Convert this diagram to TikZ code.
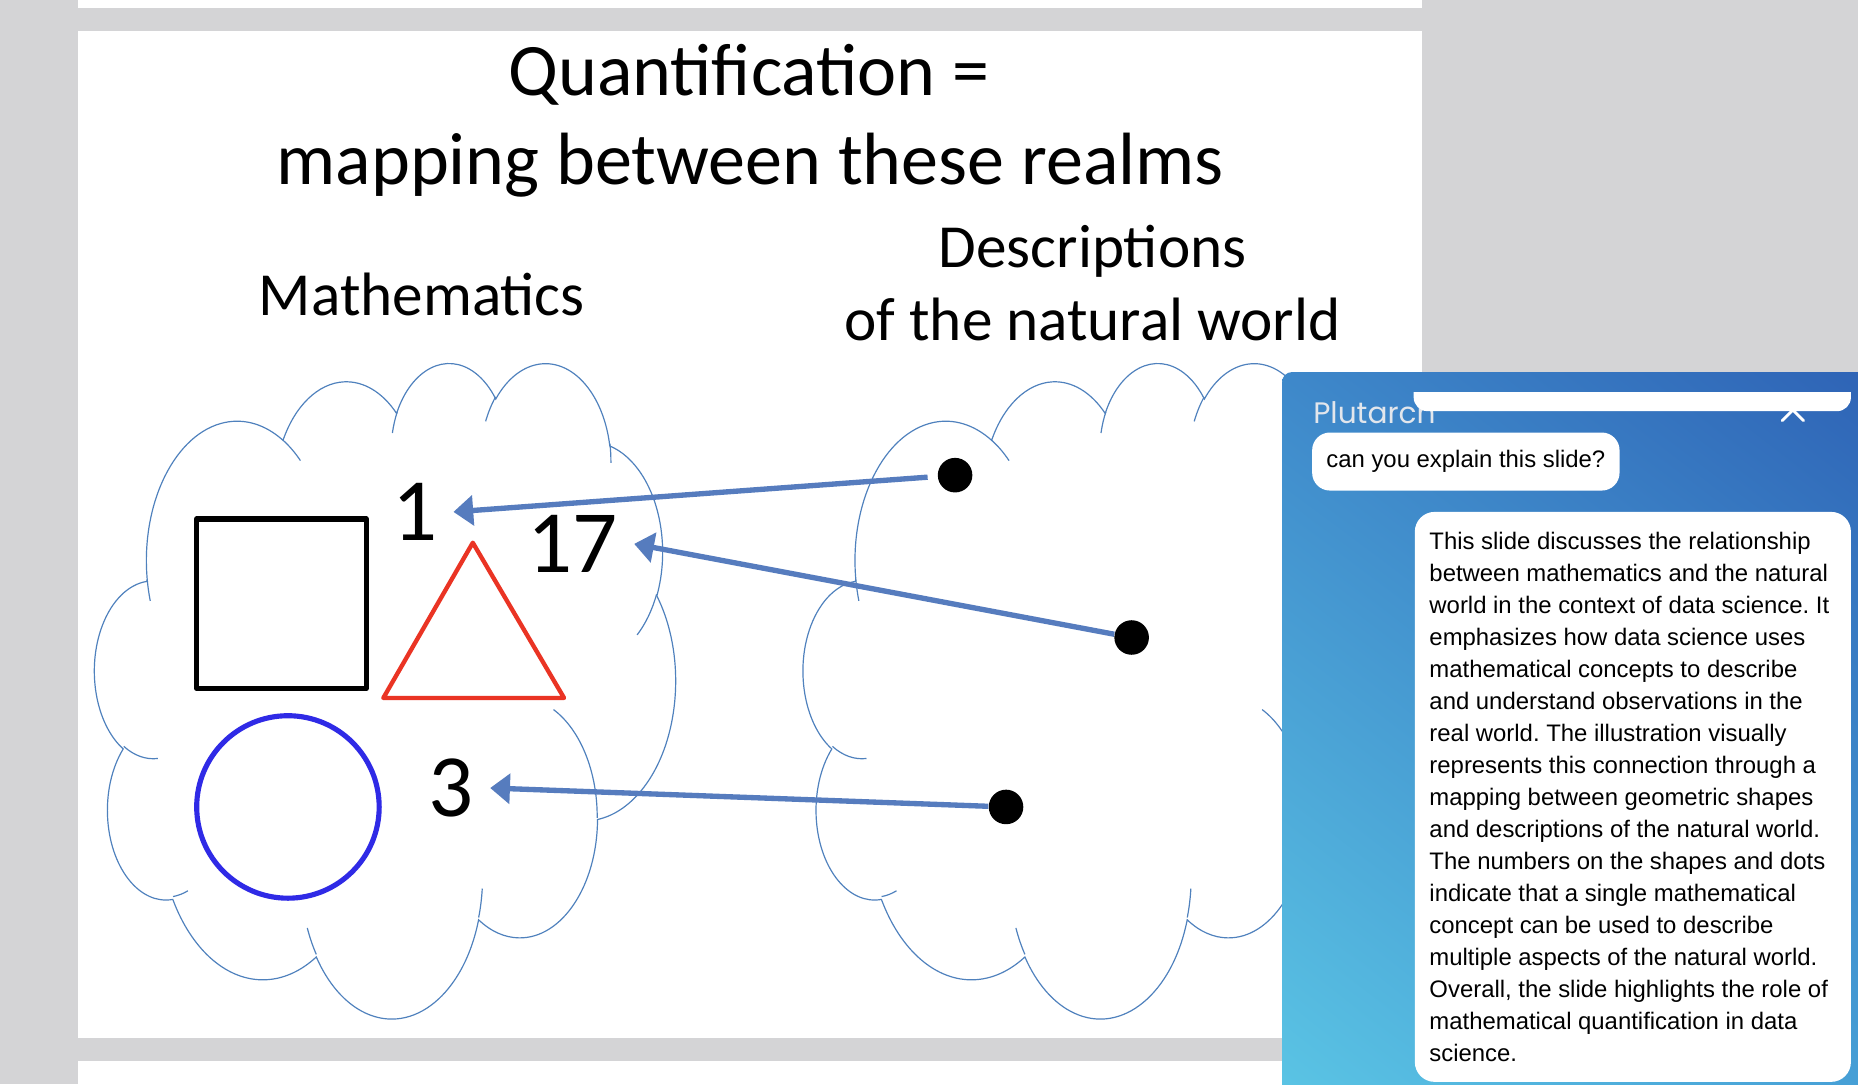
\documentclass[tikz,border=0pt]{standalone}
\usepackage{fontspec}
\setmainfont{Carlito}
\newfontfamily\chatfont{Liberation Sans}
\newfontfamily\brandfont{Poppins}
\usetikzlibrary{arrows.meta,positioning,shadings}
\frenchspacing

\definecolor{pagegrey}{RGB}{212,212,214}
\definecolor{cloudblue}{RGB}{79,129,189}
\definecolor{mapblue}{RGB}{86,124,190}
\definecolor{trired}{RGB}{234,52,36}
\definecolor{ringblue}{RGB}{47,42,230}
\definecolor{panelA}{RGB}{62,136,202}
\definecolor{panelB}{RGB}{45,96,180}
\definecolor{panelC}{RGB}{92,200,230}
\definecolor{panelD}{RGB}{70,160,215}
\definecolor{brandgrey}{RGB}{226,230,236}

% one lobe of the cloud: x radius, y radius, start and sweep (visual angles)
\newcommand\lobe[4]{arc[x radius=#1, y radius=#2,
  start angle={atan2(sin(#3)/#2,cos(#3)/#1)},
  delta angle={atan2(sin(#3+#4)/#2,cos(#3+#4)/#1)-atan2(sin(#3)/#2,cos(#3)/#1)-360*round((atan2(sin(#3+#4)/#2,cos(#3+#4)/#1)-atan2(sin(#3)/#2,cos(#3)/#1)-#4)/360)}]}

\newcommand\cloudoutline{(3.9,14.37)
  \lobe{6.753}{9.19}{-190.4875}{123.7805}
  \lobe{5.333}{7.267}{-144.1024}{89.9452}
  \lobe{4.365}{5.945}{-145.8079}{99.723}
  \lobe{4.857}{6.595}{-130.9861}{117.2417}
  \lobe{5.333}{7.273}{-78.7089}{109.0269}
  \lobe{6.775}{9.22}{-46.2673}{130.269}
  \lobe{5.785}{7.867}{0.625}{114.0333}
  \lobe{6.752}{9.215}{22.4516}{115.1726}
  \lobe{7.72}{10.543}{66.2426}{75.711}
  \lobe{4.36}{5.918}{-274.9421}{146.7356}
  \lobe{4.345}{5.945}{-246.8285}{152.5189} -- cycle}

\newcommand\cloudtails{(4.693,26.177) \lobe{4.345}{5.945}{86.742}{26.4295}
  (6.928,34.899) \lobe{4.36}{5.918}{73.6105}{11.4475}
  (16.478,39.09) \lobe{6.752}{9.215}{137.6242}{14.0811}
  (28.827,34.751) \lobe{6.752}{9.215}{6.4533}{15.9984}
  (34.129,22.954) \lobe{5.785}{7.867}{-70.2924}{70.9174}
  (41.798,15.354) \lobe{5.333}{7.273}{30.318}{27.7515}
  (38.324,5.426) \lobe{4.857}{6.595}{-13.7443}{14.8589}
  (29.078,3.952) \lobe{4.857}{6.595}{-149.1815}{18.1954}
  (22.141,4.72) \lobe{4.365}{5.945}{-163.4943}{17.6864}
  (14,5.192) \lobe{6.753}{9.19}{-66.707}{12.3194}
  (4.127,15.789) \lobe{6.753}{9.19}{157.6544}{11.8582}}

\begin{document}
\begin{tikzpicture}[x=0.6pt, y=-0.6pt,
  slidetitle/.style={font=\fontsize{37.5}{45}\selectfont, anchor=base, inner sep=0pt},
  realm/.style={font=\fontsize{31}{37}\selectfont, anchor=base, inner sep=0pt},
  numeral/.style={font=\fontsize{45}{54}\selectfont, inner xsep=8pt, inner ysep=0pt},
  dot/.style={circle, fill=black, minimum size=17.5pt, inner sep=0pt},
  maparrow/.style={draw=mapblue, line width=2.7pt, -{Triangle[length=10pt, width=15pt]}},
  cloudline/.style={draw=cloudblue, line width=0.6pt},
  bubble/.style={fill=white, rounded corners=9pt, inner xsep=7.2pt, minimum height=29.4pt,
    font=\chatfont\fontsize{12.1}{16.2}\selectfont},
  chattext/.style={font=\chatfont\fontsize{12.1}{16.2}\selectfont, inner sep=0pt, align=left}]

% page and slides
\useasboundingbox (0,0) rectangle (1568,915);
\fill[pagegrey] (0,0) rectangle (1568,915);
\fill[white] (66,-5) rectangle (1200,7);
\fill[white] (66,26) rectangle (1200,876);
\fill[white] (66,895) rectangle (1200,925);

\node[slidetitle] (quant) at (632,81) {Quantification =};
\node[slidetitle] (mapping) at (633,156) {mapping between these realms};
\node[realm] (maths) at (356,266) {Mathematics};
\node[realm] (descr) at (922,226) {Descriptions};
\node[realm] (world) at (922,287) {of the natural world};

% the two clouds
\foreach \cx in {80,678}{
  \begin{scope}[shift={(\cx,305)}, x=6.8056pt, y=-7.6806pt]
    \draw[cloudline, fill=white] \cloudoutline;
    \draw[cloudline] \cloudtails;
  \end{scope}
}

\draw[line width=2.6pt, line join=round] (166,438) rectangle (309,581);
\draw[trired, line width=2.2pt, line join=round] (399,458) -- (476,589) -- (323.5,589) -- cycle;
\draw[ringblue, line width=2.6pt] (243,681) circle[radius=77];

\node[numeral] (numOne) at (350,432) {1};
\node[numeral] (numSeventeen) at (483.5,459) {17};
\node[numeral] (numThree) at (381,665) {3};
\node[dot] (dotA) at (806,401) {};
\node[dot] (dotB) at (955,538) {};
\node[dot] (dotC) at (849,681) {};

\draw[maparrow, shorten <=5pt] (dotA) -- (numOne.east);
\draw[maparrow] (dotB) -- (numSeventeen.east);
\draw[maparrow] (dotC) -- (numThree.east);

% chat panel
\shade[upper left=panelA, upper right=panelB, lower left=panelC, lower right=panelD,
  rounded corners=5pt] (1082,314) rectangle (1620,960);
\node[anchor=base west, inner sep=0pt, text=brandgrey, font=\brandfont\fontsize{15}{18}\selectfont]
  (brand) at (1108,357) {Plutarch};
\draw[white, line width=1.5pt, line cap=round] (1504,337) -- (1522,355) (1504,355) -- (1522,337);
\begin{scope}
  \clip (1082,331) rectangle (1568,915);
  \fill[white, rounded corners=7pt] (1193,290) rectangle (1562,347);
\end{scope}
\node[bubble, anchor=west] (question) at (1107,389.5) {can you explain this slide?};
\fill[white, rounded corners=10pt] (1194,432) rectangle (1562,913);
\node[chattext, anchor=north west] (reply) at (1206,449) {This slide discusses the relationship\\
between mathematics and the natural\\
world in the context of data science. It\\
emphasizes how data science uses\\
mathematical concepts to describe\\
and understand observations in the\\
real world. The illustration visually\\
represents this connection through a\\
mapping between geometric shapes\\
and descriptions of the natural world.\\
The numbers on the shapes and dots\\
indicate that a single mathematical\\
concept can be used to describe\\
multiple aspects of the natural world.\\
Overall, the slide highlights the role of\\
mathematical quantification in data\\
science.};
\end{tikzpicture}
\end{document}
